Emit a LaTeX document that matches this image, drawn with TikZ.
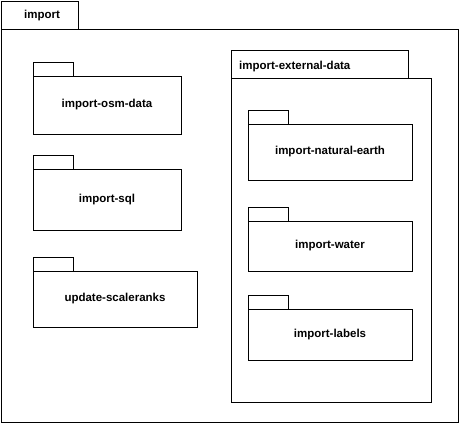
\documentclass[tikz,border=0pt]{standalone}
\usepackage{fontspec}
\setmainfont{Liberation Sans}
\tikzset{
  pkgline/.style={line width=0.8pt,line join=miter},
  pkgname/.style={font=\bfseries\fontsize{11.5}{13}\selectfont,inner sep=0pt}
}
\begin{document}
\begin{tikzpicture}[x=1pt,y=-1pt]
\useasboundingbox (0,0) rectangle (460,424);
% outer package
\draw [pkgline](1.5,1.5) rectangle (78,29);
\draw [pkgline](1.5,29) rectangle (458,422);
\node [pkgname] (import) at (42,15.5) {import};
% left column
\draw [pkgline](33,62) rectangle (73,76);
\draw [pkgline](33,76) rectangle (181,134);
\node [pkgname] (osm) at (107,105) {import-osm-data};
\draw [pkgline](33,155) rectangle (73,169);
\draw [pkgline](33,169) rectangle (181,230);
\node [pkgname] (sql) at (107,199.5) {import-sql};
\draw [pkgline](33,257) rectangle (73,271);
\draw [pkgline](33,271) rectangle (197,327);
\node [pkgname] (scaleranks) at (115,299) {update-scaleranks};
% external data package
\draw [pkgline](231,50) rectangle (408,78);
\draw [pkgline](231,78) rectangle (431,402);
\node [pkgname,anchor=west] (external) at (239,66.5) {import-external-data};
\draw [pkgline](248,110) rectangle (288,124);
\draw [pkgline](248,124) rectangle (412,180);
\node [pkgname] (earth) at (330,152) {import-natural-earth};
\draw [pkgline](248,207) rectangle (288,221);
\draw [pkgline](248,221) rectangle (412,271);
\node [pkgname] (water) at (330,246) {import-water};
\draw [pkgline](248,295) rectangle (288,309);
\draw [pkgline](248,309) rectangle (412,360);
\node [pkgname] (labels) at (330,334.5) {import-labels};
\end{tikzpicture}
\end{document}
